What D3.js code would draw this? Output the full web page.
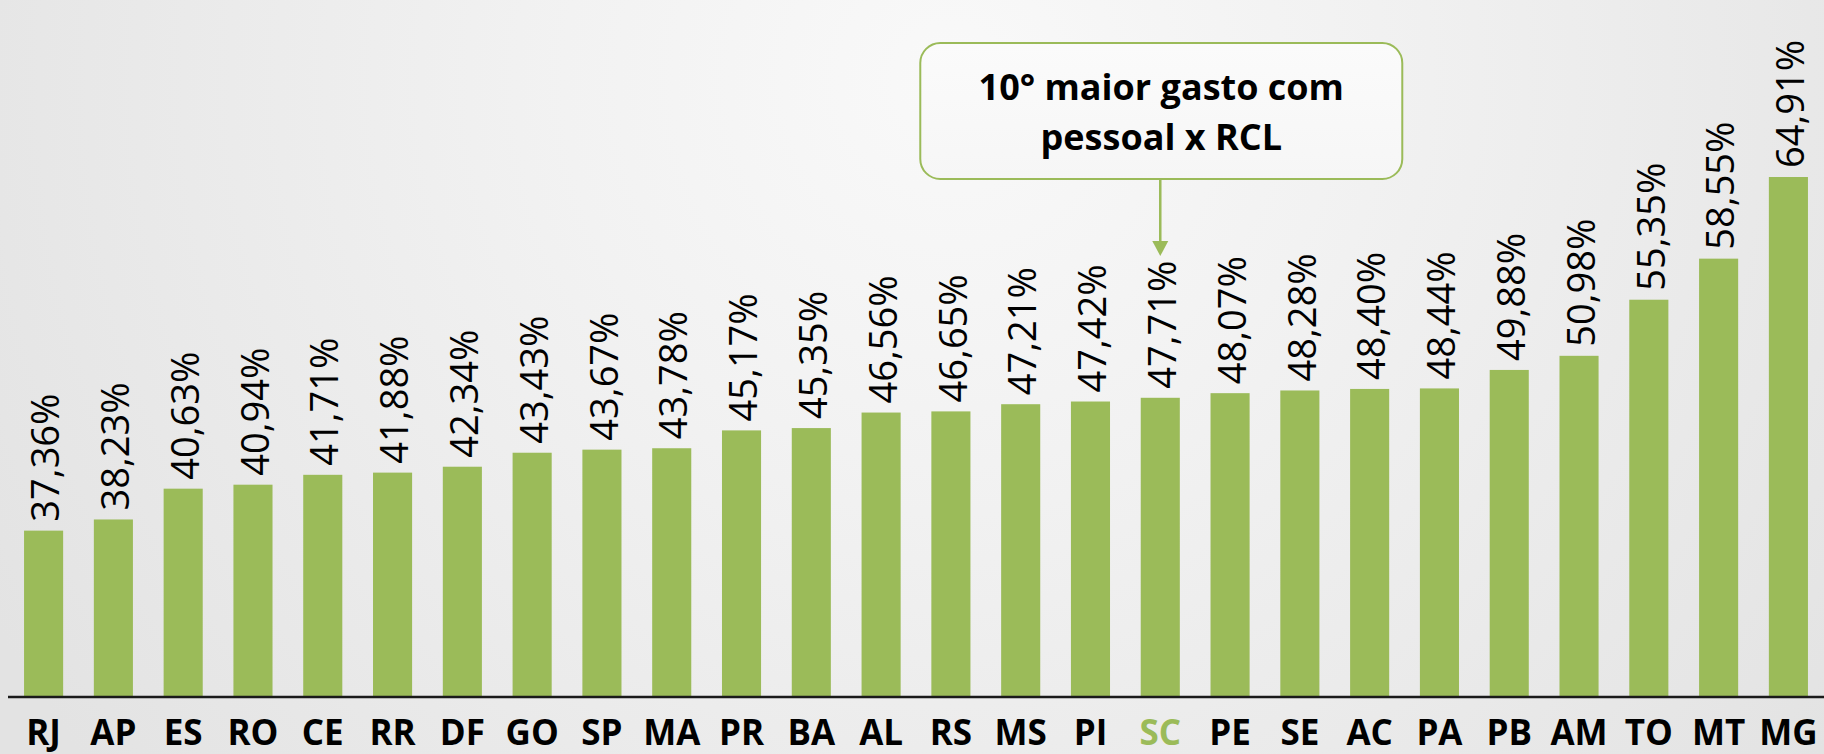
<!DOCTYPE html>
<html>
<head>
  <meta charset="utf-8">
  <title>Gasto com pessoal x RCL</title>
  <style>
    body{
      margin: 0;
      padding: 0;
      background-color: #e4e4e4;
      overflow: hidden;
    }
    .chart{
      display: block;
    }
    .label{
      font-family: "Open Sans", sans-serif;
      font-size: 38px;
      fill: #000;
    }
    .cat{
      font-family: "Open Sans", sans-serif;
      font-size: 35px;
      font-weight: bold;
      fill: #000;
    }
    .note{
      font-family: "Open Sans", sans-serif;
      font-size: 36px;
      font-weight: bold;
      fill: #000;
    }
  </style>
</head>
<body>
<svg class="chart"></svg>

<script src="https://d3js.org/d3.v7.min.js"></script>
<script>

// data
var states = ["RJ","AP","ES","RO","CE","RR","DF","GO","SP","MA","PR","BA","AL","RS","MS","PI","SC","PE","SE","AC","PA","PB","AM","TO","MT","MG"];
var values = [37.36,38.23,40.63,40.94,41.71,41.88,42.34,43.43,43.67,43.78,45.17,45.35,46.56,46.65,47.21,47.42,47.71,48.07,48.28,48.40,48.44,49.88,50.98,55.35,58.55,64.91];
var highlight = "SC";
var noteLines = ["10° maior gasto com", "pessoal x RCL"];

var W = 1824, H = 754;
var margin = {top: 0, right: 0, bottom: 57, left: 8};
var width = W - margin.left - margin.right,
    height = H - margin.top - margin.bottom;

var green = "#9bbb59";

var pt = d3.formatLocale({decimal: ",", thousands: ".", grouping: [3], currency: ["", ""]});
var fmt = function(v){ return pt.format(".2f")(v) + "%"; };

var svg = d3.select(".chart")
    .attr("width", W)
    .attr("height", H);

var defs = svg.append("defs");
var bg = defs.append("radialGradient")
    .attr("id", "bg")
    .attr("gradientUnits", "userSpaceOnUse")
    .attr("cx", 950).attr("cy", 80).attr("r", 1100);
bg.append("stop").attr("offset", "0%").attr("stop-color", "#f9f9f9");
bg.append("stop").attr("offset", "35%").attr("stop-color", "#f2f2f2");
bg.append("stop").attr("offset", "100%").attr("stop-color", "#e3e3e3");

var boxGrad = defs.append("linearGradient")
    .attr("id", "boxg").attr("x1", 0).attr("y1", 0).attr("x2", 0).attr("y2", 1);
boxGrad.append("stop").attr("offset", "0%").attr("stop-color", "#fbfbfb");
boxGrad.append("stop").attr("offset", "100%").attr("stop-color", "#f6f6f6");

svg.append("rect").attr("width", W).attr("height", H).attr("fill", "url(#bg)");

var g = svg.append("g")
    .attr("transform", "translate(" + margin.left + "," + margin.top + ")");

var x = d3.scaleBand()
    .domain(states)
    .range([0, width])
    .paddingInner(0.44)
    .paddingOuter(0.23);

// value axis does not start at zero in the original
var y = d3.scaleLinear()
    .domain([24.4, 78.7])
    .range([height, 0]);

// bars
g.selectAll(".bar")
    .data(states)
    .enter().append("rect")
    .attr("class", "bar")
    .attr("x", function(d) { return x(d); })
    .attr("width", x.bandwidth())
    .attr("y", function(d, i) { return y(values[i]); })
    .attr("height", function(d, i) { return height - y(values[i]); })
    .attr("fill", green);

// value labels, rotated
g.selectAll(".label")
    .data(states)
    .enter().append("text")
    .attr("class", "label")
    .attr("transform", function(d, i) {
      return "translate(" + (x(d) + x.bandwidth() / 2 + 2) + "," + (y(values[i]) - 9) + ") rotate(-90)";
    })
    .attr("dy", "0.36em")
    .text(function(d, i) { return fmt(values[i]); });

// bottom axis
var xAxis = g.append("g")
    .attr("transform", "translate(0," + height + ")")
    .call(d3.axisBottom(x).tickSize(0).tickPadding(23));
xAxis.select(".domain")
    .attr("stroke", "#1a1a1a")
    .attr("stroke-width", 2.5)
    .attr("d", "M0,0H" + width);
xAxis.selectAll(".tick text")
    .attr("class", "cat")
    .attr("font-size", null)
    .attr("font-family", null)
    .attr("dy", "0.71em")
    .style("fill", function(d) { return d === highlight ? green : "#000"; });

// callout
var cx = x(highlight) + x.bandwidth() / 2;
var box = {x: cx - 240, y: 43, w: 482, h: 136};
var note = g.append("g");
note.append("rect")
    .attr("x", box.x).attr("y", box.y)
    .attr("width", box.w).attr("height", box.h)
    .attr("rx", 20).attr("ry", 20)
    .attr("fill", "url(#boxg)")
    .attr("stroke", green)
    .attr("stroke-width", 2);
note.selectAll("text")
    .data(noteLines)
    .enter().append("text")
    .attr("class", "note")
    .attr("x", box.x + box.w / 2)
    .attr("y", function(d, i) { return 100 + i * 50; })
    .attr("text-anchor", "middle")
    .text(function(d) { return d; });

var tipY = 256;
note.append("line")
    .attr("x1", cx).attr("x2", cx)
    .attr("y1", box.y + box.h).attr("y2", tipY - 12)
    .attr("stroke", green)
    .attr("stroke-width", 2.5);
note.append("path")
    .attr("d", "M" + (cx - 8) + "," + (tipY - 15) + "L" + (cx + 8) + "," + (tipY - 15) + "L" + cx + "," + tipY + "Z")
    .attr("fill", green);

</script>
</body>
</html>
